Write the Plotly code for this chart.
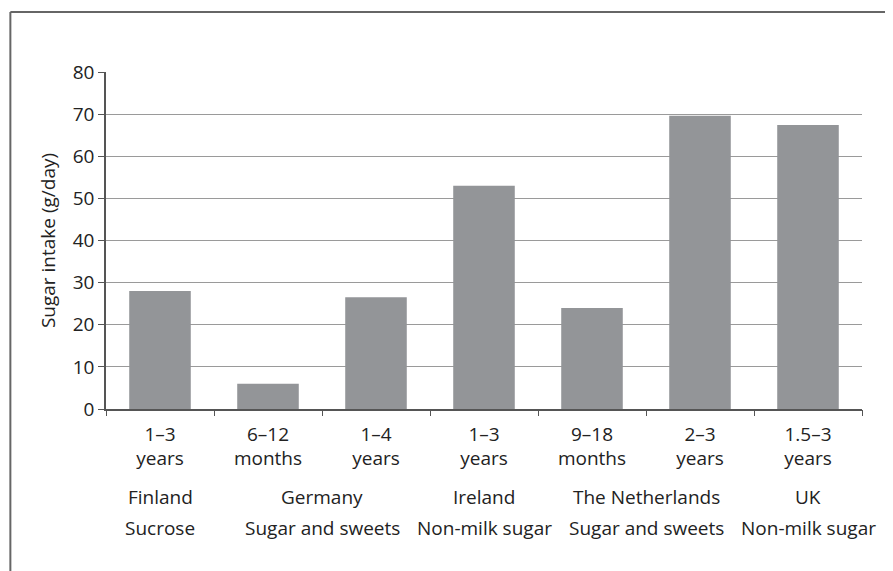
import plotly.graph_objects as go

age_labels = ["1–3<br>years", "6–12<br>months", "1–4<br>years", "1–3<br>years",
              "9–18<br>months", "2–3<br>years", "1.5–3<br>years"]
values = [28.0, 6.0, 26.5, 53.0, 24.0, 69.6, 67.4]
countries = ["Finland", "Germany", "Ireland", "The Netherlands", "UK"]
sugar_types = ["Sucrose", "Sugar and sweets", "Non-milk sugar", "Sugar and sweets", "Non-milk sugar"]
group_sizes = [1, 2, 1, 2, 1]
y_ticks = [0, 10, 20, 30, 40, 50, 60, 70, 80]

FONT = "Open Sans"
TXT = "#222222"
FS = 19
xpos = list(range(len(values)))

fig = go.Figure()
fig.add_trace(go.Bar(x=xpos, y=values, marker=dict(color="#939598", line=dict(width=0)),
                     width=0.57, showlegend=False, hoverinfo="y"))
# invisible trace on overlay axis for boundary ticks
fig.add_trace(go.Scatter(x=[-0.5, 6.5], y=[0, 0], xaxis="x2", mode="lines",
                         line=dict(width=0), showlegend=False, hoverinfo="skip"))

# group centers
centers = []
start = 0
for s in group_sizes:
    centers.append(start + (s - 1) / 2)
    start += s

annotations = []
for c, name, st in zip(centers, countries, sugar_types):
    annotations.append(dict(x=c, y=-0.261, xref="x", yref="paper", text=name, showarrow=False,
                            font=dict(family=FONT, size=FS, color=TXT), yanchor="middle"))
    annotations.append(dict(x=c, y=-0.353, xref="x", yref="paper", text=st, showarrow=False,
                            font=dict(family=FONT, size=FS, color=TXT), yanchor="middle"))

fig.update_layout(
    width=893, height=571,
    margin=dict(l=98, r=39, t=64, b=170),
    paper_bgcolor="white", plot_bgcolor="white",
    font=dict(family=FONT, size=FS, color=TXT),
    bargap=0.43,
    xaxis=dict(range=[-0.5, 6.5], tickmode="array", tickvals=xpos, ticktext=age_labels,
               ticks="", showgrid=False, zeroline=False, showline=True,
               linecolor="#555555", linewidth=1.5, fixedrange=True,
               ticklabelstandoff=7,
               tickfont=dict(family=FONT, size=FS, color=TXT)),
    xaxis2=dict(range=[-0.5, 6.5], overlaying="x", side="bottom", tickmode="array",
                tickvals=[i - 0.5 for i in range(len(values) + 1)], ticks="outside",
                ticklen=6, tickcolor="#555555", tickwidth=1.2, showticklabels=False,
                showgrid=False, zeroline=False, showline=False),
    yaxis=dict(range=[0, 80], tickmode="array", tickvals=y_ticks, ticks="outside",
               ticklen=6, tickcolor="#555555", tickwidth=1.2,
               showgrid=True, gridcolor="#9a9a9a", gridwidth=1, zeroline=False,
               showline=True, linecolor="#555555", linewidth=1.5,
               tickfont=dict(family=FONT, size=FS, color=TXT),
               title=dict(text="Sugar intake (g/day)", font=dict(family=FONT, size=FS, color=TXT),
                          standoff=12)),
    annotations=annotations,
    shapes=[
        dict(type="line", xref="paper", yref="paper", x0=-0.1265, x1=1.08, y0=1.178, y1=1.178,
             line=dict(color="#666666", width=2)),
        dict(type="line", xref="paper", yref="paper", x0=-0.1265, x1=-0.1265, y0=1.178, y1=-0.52,
             line=dict(color="#666666", width=2)),
    ],
)

fig.write_html("out.html")
